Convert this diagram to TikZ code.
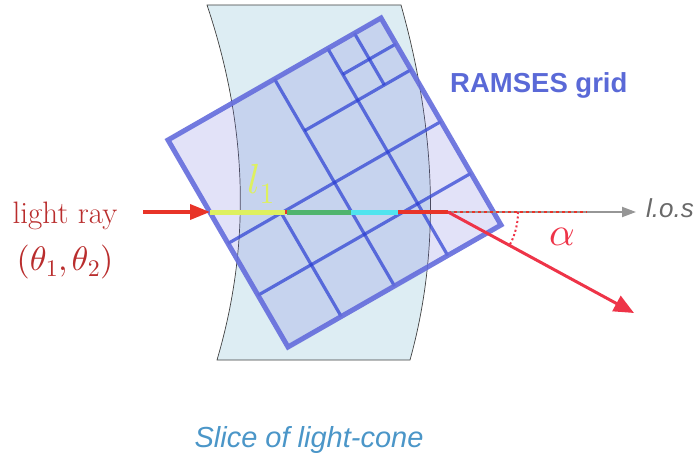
\documentclass[tikz,border=0pt]{standalone}
\DeclareFontFamily{OML}{cmm}{\skewchar\font127 }
\DeclareFontShape{OML}{cmm}{m}{it}{<->cmmi10}{}
\DeclareFontFamily{OT1}{cmr}{\hyphenchar\font45 }
\DeclareFontShape{OT1}{cmr}{m}{n}{<->cmr10}{}
\usepackage{fontspec}
\newfontfamily\sansf{Liberation Sans}
\usetikzlibrary{arrows.meta}
\definecolor{slicefill}{RGB}{221,237,243}
\definecolor{gridfill}{RGB}{110,110,220}
\definecolor{gridline}{RGB}{40,60,210}
\definecolor{gridborder}{RGB}{100,108,220}
\definecolor{rayred}{RGB}{232,52,40}
\definecolor{outred}{RGB}{238,52,72}
\definecolor{textred}{RGB}{185,45,45}
\definecolor{lyellow}{RGB}{222,240,95}
\definecolor{lgreen}{RGB}{80,180,110}
\definecolor{lcyan}{RGB}{80,228,238}
\definecolor{losgray}{RGB}{150,150,150}
\definecolor{lostext}{RGB}{105,105,105}
\definecolor{ramblue}{RGB}{90,105,215}
\definecolor{sliceblue}{RGB}{75,150,200}
\begin{document}
\begin{tikzpicture}[x=1pt,y=-1pt,
  gridln/.style={gridline, line width=3.2pt, opacity=0.7},
  segline/.style={line width=5pt},
  lbl/.style={inner sep=0pt}]
\useasboundingbox (0,0) rectangle (700,457);
% slice of light-cone
\draw[fill=slicefill, draw=black!75, line width=0.7pt]
  (207,5) -- (401,5) .. controls (437,133) and (440,252) .. (410,360)
  -- (217,360) .. controls (251,245) and (248,127) .. cycle;
% RAMSES grid
\begin{scope}[shift={(168,140)}, x={(213pt,122pt)}, y={(120pt,-207pt)}]
  \fill[gridfill, opacity=0.2] (0,0) -- (1,0) -- (1,1) -- (0,1) -- cycle;
  \draw[gridln] (0.5,0) -- (0.5,1);
  \draw[gridln] (0,0.5) -- (1,0.5);
  \draw[gridln] (0.75,0) -- (0.75,1);
  \draw[gridln] (0,0.75) -- (1,0.75);
  \draw[gridln] (0.5,0.25) -- (1,0.25);
  \draw[gridln] (0.25,0.5) -- (0.25,1);
  \draw[gridln] (0.875,0) -- (0.875,0.25);
  \draw[gridln] (0.75,0.125) -- (1,0.125);
  \draw[gridborder, line width=5pt, opacity=0.9] (0,0) -- (1,0) -- (1,1) -- (0,1) -- cycle;
\end{scope}
% ray
\coordinate (start) at (143,212);
\coordinate (entry) at (210,212);
\coordinate (yend) at (285,212);
\coordinate (gstart) at (287,212);
\coordinate (gend) at (351,212);
\coordinate (cend) at (398,212);
\coordinate (defl) at (448,212);
\coordinate (dotend) at (587,212);
\coordinate (losend) at (636,212);
\coordinate (outend) at (634,313);
\draw[rayred, line width=3.5pt] (entry) -- (defl);
\draw[rayred, line width=3.5pt, -{Triangle[length=20pt,width=15pt]}] (start) -- (entry);
\draw[lyellow, segline] (entry) -- (yend);
\draw[lgreen, segline] (gstart) -- (gend);
\draw[lcyan, segline] (gend) -- (cend);
\draw[losgray, line width=2pt, -{Triangle[length=14pt,width=10pt]}] (defl) -- (losend);
\draw[rayred, line width=2.5pt, dash pattern=on 3pt off 3pt] (defl) -- (dotend);
\draw[outred, line width=3pt, -{Triangle[length=20pt,width=17pt]}] (defl) -- (outend);
\draw[outred, line width=2pt, dash pattern=on 2pt off 2.5pt]
  ([shift={(70,0)}]defl) arc[start angle=0, end angle=29, radius=70];
% labels
\node[anchor=base, lbl, text=textred, font=\fontsize{31}{34}\selectfont] (lr) at (65,223) {light ray};
\node[anchor=base, lbl, text=textred, font=\fontsize{34}{38}\selectfont] (th) at (65,270) {$(\theta_1,\theta_2)$};
\node[anchor=base west, lbl, text=lyellow, font=\fontsize{42}{44}\selectfont] (l1) at (247,193) {$l_1$};
\node[lbl, text=outred, font=\fontsize{40}{42}\selectfont] (al) at (562,237) {$\alpha$};
\node[anchor=base west, lbl, text=ramblue, font=\sansf\bfseries\fontsize{27.5}{31}\selectfont] (rg) at (450,93) {RAMSES grid};
\node[anchor=base west, lbl, text=lostext, font=\sansf\itshape\fontsize{26}{30}\selectfont] (los) at (646,217) {l.o.s};
\node[anchor=base, lbl, text=sliceblue, font=\sansf\itshape\fontsize{29}{33}\selectfont] (sl) at (309,447) {Slice of light-cone};
\end{tikzpicture}
\end{document}
